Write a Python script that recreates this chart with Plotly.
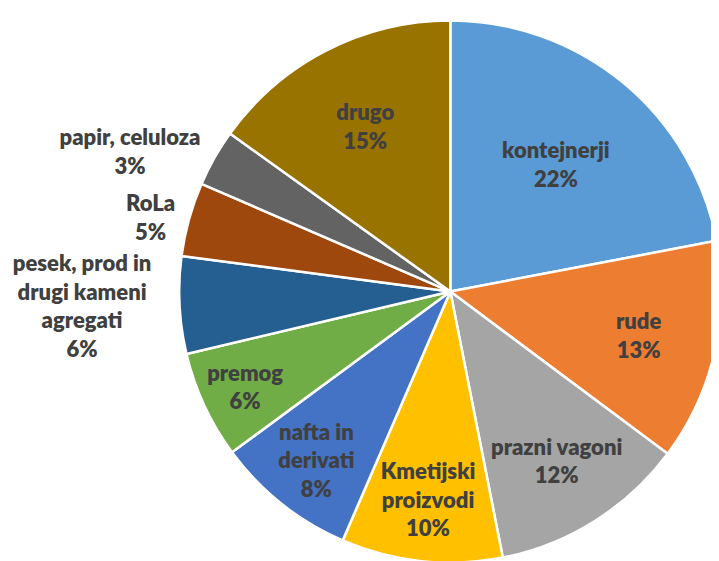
import plotly.graph_objects as go

labels = ["kontejnerji", "rude", "prazni vagoni", "Kmetijski<br>proizvodi",
          "nafta in<br>derivati", "premog", "pesek, prod in<br>drugi kameni<br>agregati",
          "RoLa", "papir, celuloza", "drugo"]
values = [22.0, 13.2, 11.7, 9.6, 8.4, 6.4, 5.8, 4.4, 3.4, 15.1]
pct_text = ["22%", "13%", "12%", "10%", "8%", "6%", "6%", "5%", "3%", "15%"]
colors = ["#5B9BD5", "#ED7D31", "#A5A5A5", "#FFC000", "#4472C4",
          "#70AD47", "#255E91", "#9E480E", "#636363", "#997300"]
positions = ["inside"] * 6 + ["outside"] * 3 + ["inside"]

fig = go.Figure(go.Pie(
    labels=labels,
    values=values,
    text=pct_text,
    texttemplate="%{label}<br>%{text}",
    textposition=positions,
    insidetextorientation="horizontal",
    sort=False,
    direction="clockwise",
    rotation=0,
    marker=dict(colors=colors, line=dict(color="white", width=2.5)),
    textfont=dict(family="Lato", size=22, color="#404040", weight=800),
    domain=dict(x=[0.228, 0.995], y=[0, 0.98]),
    showlegend=False,
    hoverinfo="label+percent",
))

fig.update_layout(
    width=719, height=561,
    margin=dict(l=0, r=0, t=0, b=0),
    paper_bgcolor="white",
    plot_bgcolor="white",
    uniformtext=dict(minsize=22, mode="show"),
)

fig.write_html("out.html")
